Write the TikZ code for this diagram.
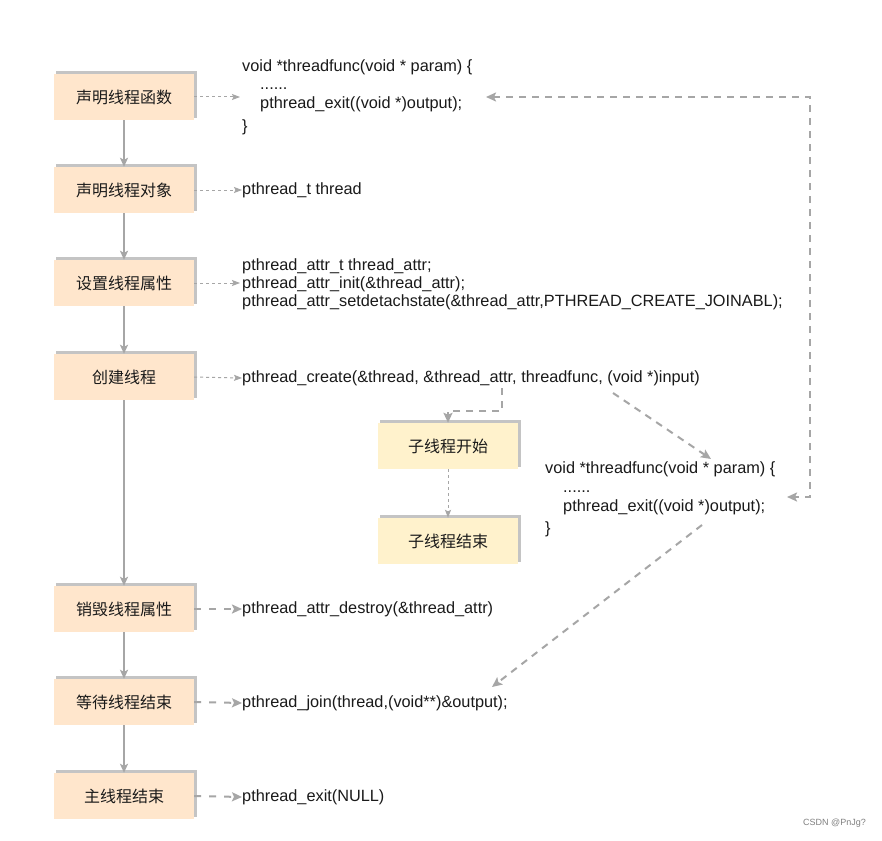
\documentclass[tikz,border=0pt]{standalone}
\usepackage{fontspec}
\setmainfont{Liberation Sans}
\newfontfamily\cjk{Noto Sans CJK SC}
\usetikzlibrary{arrows.meta,calc}
\definecolor{peach}{HTML}{FFE6CC}
\definecolor{lyellow}{HTML}{FFF2CC}
\definecolor{lg}{HTML}{A6A6A6}
\definecolor{shd}{HTML}{C4C4C4}
\definecolor{txt}{HTML}{1A1A1A}
\tikzset{
  stepbox/.style={minimum width=140pt,minimum height=46pt,inner sep=0pt,
    font=\cjk\fontsize{16pt}{18pt}\selectfont,text=txt},
  code/.style={anchor=west,inner sep=0pt,text height=12pt,text depth=4pt,
    font=\fontsize{16.3pt}{18pt}\selectfont,text=txt},
  solidarr/.style={draw=lg,line width=1.5pt,-{Stealth[length=9pt,width=8pt,inset=2pt]}},
  dotarr/.style={draw=lg,line width=1pt,dash pattern=on 3pt off 3pt,-{Stealth[length=8pt,width=6pt,inset=1.5pt]}},
  dasharr/.style={draw=lg,line width=2pt,dash pattern=on 7pt off 6pt,-{Stealth[length=10pt,width=9pt,inset=2pt]}},
}
\newcommand{\shbox}[4]{%
  \fill[shd] ($(#1)+(-68pt,-21pt)$) rectangle ($(#1)+(73pt,26pt)$);
  \node[stepbox,fill=#3] (#2) at (#1) {#4};
}
\begin{document}
\begin{tikzpicture}[x=1pt,y=-1pt]
\useasboundingbox (0,0) rectangle (882,840);
\fill[white] (0,0) rectangle (882,840);
% main boxes
\shbox{124,97}{b1}{peach}{声明线程函数}
\shbox{124,190}{b2}{peach}{声明线程对象}
\shbox{124,283}{b3}{peach}{设置线程属性}
\shbox{124,377}{b4}{peach}{创建线程}
\shbox{124,609}{b5}{peach}{销毁线程属性}
\shbox{124,702}{b6}{peach}{等待线程结束}
\shbox{124,796}{b7}{peach}{主线程结束}
% sub-thread boxes
\shbox{448,446}{s1}{lyellow}{子线程开始}
\shbox{448,541}{s2}{lyellow}{子线程结束}
% code texts
\node[code] (c1a) at (242,68) {void *threadfunc(void * param) \{};
\node[code] (c1b) at (260,86) {......};
\node[code] (c1c) at (260,105) {pthread\_exit((void *)output);};
\node[code] (c1d) at (242,127) {\}};
\node[code] (c2) at (242,190) {pthread\_t thread};
\node[code] (c3a) at (242,266) {pthread\_attr\_t thread\_attr;};
\node[code] (c3b) at (242,284) {pthread\_attr\_init(\&thread\_attr);};
\node[code] (c3c) at (242,302) {pthread\_attr\_setdetachstate(\&thread\_attr,PTHREAD\_CREATE\_JOINABL);};
\node[code] (c4) at (242,378) {pthread\_create(\&thread, \&thread\_attr, threadfunc, (void *)input)};
\node[code] (c5a) at (545,469) {void *threadfunc(void * param) \{};
\node[code] (c5b) at (563,488) {......};
\node[code] (c5c) at (563,507) {pthread\_exit((void *)output);};
\node[code] (c5d) at (545,529) {\}};
\node[code] (c6) at (242,609) {pthread\_attr\_destroy(\&thread\_attr)};
\node[code] (c7) at (242,703) {pthread\_join(thread,(void**)\&output);};
\node[code] (c8) at (242,797) {pthread\_exit(NULL)};
\node[anchor=east,inner sep=0pt,font=\fontsize{9pt}{10pt}\selectfont,text=gray] (wm) at (866,823) {CSDN @PnJg?};
% vertical solid arrows
\draw[solidarr] (b1.south) -- (b2.north);
\draw[solidarr] (b2.south) -- (b3.north);
\draw[solidarr] (b3.south) -- (b4.north);
\draw[solidarr] (b4.south) -- (b5.north);
\draw[solidarr] (b5.south) -- (b6.north);
\draw[solidarr] (b6.south) -- (b7.north);
% horizontal arrows
\coordinate (t1) at (240,97);
\draw[dotarr] (b1.east) -- (t1);
\draw[dotarr] (b2.east) -- (c2.west);
\coordinate (t3) at (240,283);
\draw[dotarr] (b3.east) -- (t3);
\draw[dotarr] (b4.east) -- (c4.west);
\draw[dasharr,dash pattern=on 7pt off 8pt] (b5.east) -- (c6.west);
\draw[dasharr,dash pattern=on 7pt off 8pt] (b6.east) -- (c7.west);
\draw[dasharr,dash pattern=on 7pt off 8pt] (b7.east) -- (c8.west);
% sub-thread
\coordinate (p1) at (502,388);
\draw[dasharr] (p1) -- (502,411) -- (448,411) -- (s1.north);
\draw[dotarr] (s1.south) -- (s2.north);
\coordinate (p2) at (613,393);
\coordinate (p3) at (711,459);
\draw[dasharr] (p2) -- (p3);
% loop
\coordinate (l1) at (486,97);
\coordinate (l2) at (787,497);
\draw[dasharr,{Stealth[length=10pt,width=9pt,inset=2pt]}-{Stealth[length=10pt,width=9pt,inset=2pt]}] (l1) -- (810,97) -- (810,497) -- (l2);
% join
\coordinate (j1) at (702,525);
\coordinate (j2) at (492,687);
\draw[dasharr] (j1) -- (j2);
\end{tikzpicture}
\end{document}
